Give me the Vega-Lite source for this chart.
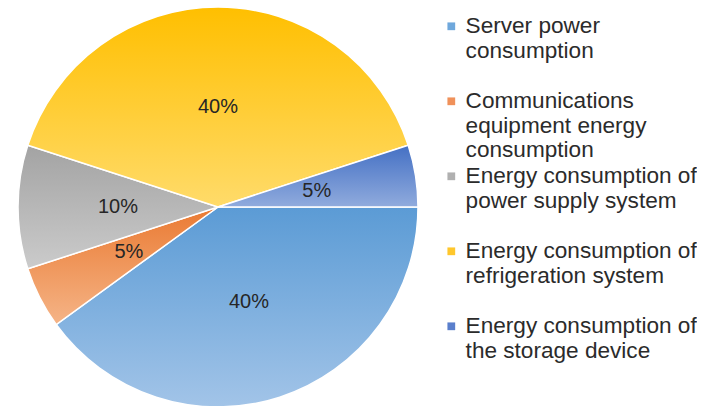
{
  "$schema": "https://vega.github.io/schema/vega-lite/v6.json",
  "width": 436,
  "height": 406,
  "padding": 0,
  "autosize": {"type": "pad"},
  "background": "white",
  "config": {"view": {"stroke": null}},
  "data": {
    "values": [
      {"cat": "Server power|consumption", "pct": 40, "lbl": "40%", "order": 1},
      {"cat": "Communications|equipment energy|consumption", "pct": 5, "lbl": "5%", "order": 2},
      {"cat": "Energy consumption of|power supply system", "pct": 10, "lbl": "10%", "order": 3},
      {"cat": "Energy consumption of|refrigeration system", "pct": 40, "lbl": "40%", "order": 4},
      {"cat": "Energy consumption of|the storage device", "pct": 5, "lbl": "5%", "order": 5}
    ]
  },
  "transform": [
    {"stack": "pct", "groupby": [], "sort": [{"field": "order", "order": "ascending"}], "as": ["start", "end"]}
  ],
  "layer": [
    {
      "mark": {"type": "arc", "outerRadius": 200, "yOffset": 4, "stroke": "#ffffff", "strokeWidth": 1.5},
      "encoding": {
        "theta": {"field": "start", "type": "quantitative", "scale": {"domain": [0, 100], "range": [1.5707963, 7.8539816]}},
        "theta2": {"field": "end"},
        "color": {
          "field": "cat", "type": "nominal",
          "scale": {
            "domain": ["Server power|consumption", "Communications|equipment energy|consumption", "Energy consumption of|power supply system", "Energy consumption of|refrigeration system", "Energy consumption of|the storage device"],
            "range": ["#6fa8dc", "#f0915a", "#b0b0b0", "#ffc72c", "#5a7fcc"]
          },
          "legend": {
            "orient": "none", "legendX": 440, "legendY": 15, "title": null,
            "symbolType": "square", "symbolSize": 60, "symbolStrokeWidth": 0,
            "labelExpr": "split(datum.label, '|')",
            "labelFontSize": 22.6, "labelFont": "Liberation Sans", "labelColor": "#2b2b2b",
            "labelLimit": 0, "labelOffset": 3, "rowPadding": 2, "gridAlign": "all"
          }
        }
      }
    },
    {
      "transform": [{"filter": "datum.order == 1"}],
      "mark": {"type": "arc", "outerRadius": 200, "yOffset": 4, "stroke": "#ffffff", "strokeWidth": 1.5,
        "fill": {"gradient": "linear", "x1": 0, "y1": 0, "x2": 0, "y2": 1, "stops": [{"offset": 0, "color": "#5b9bd5"}, {"offset": 1, "color": "#a2c4e8"}]}},
      "encoding": {
        "theta": {"field": "start", "type": "quantitative", "scale": {"domain": [0, 100], "range": [1.5707963, 7.8539816]}},
        "theta2": {"field": "end"}
      }
    },
    {
      "transform": [{"filter": "datum.order == 2"}],
      "mark": {"type": "arc", "outerRadius": 200, "yOffset": 4, "stroke": "#ffffff", "strokeWidth": 1.5,
        "fill": {"gradient": "linear", "x1": 0, "y1": 0, "x2": 0, "y2": 1, "stops": [{"offset": 0, "color": "#ea7a32"}, {"offset": 1, "color": "#f5b487"}]}},
      "encoding": {
        "theta": {"field": "start", "type": "quantitative", "scale": {"domain": [0, 100], "range": [1.5707963, 7.8539816]}},
        "theta2": {"field": "end"}
      }
    },
    {
      "transform": [{"filter": "datum.order == 3"}],
      "mark": {"type": "arc", "outerRadius": 200, "yOffset": 4, "stroke": "#ffffff", "strokeWidth": 1.5,
        "fill": {"gradient": "linear", "x1": 0, "y1": 0, "x2": 0, "y2": 1, "stops": [{"offset": 0, "color": "#a3a3a3"}, {"offset": 1, "color": "#cbcbcb"}]}},
      "encoding": {
        "theta": {"field": "start", "type": "quantitative", "scale": {"domain": [0, 100], "range": [1.5707963, 7.8539816]}},
        "theta2": {"field": "end"}
      }
    },
    {
      "transform": [{"filter": "datum.order == 4"}],
      "mark": {"type": "arc", "outerRadius": 200, "yOffset": 4, "stroke": "#ffffff", "strokeWidth": 1.5,
        "fill": {"gradient": "linear", "x1": 0, "y1": 0, "x2": 0, "y2": 1, "stops": [{"offset": 0, "color": "#ffbf00"}, {"offset": 1, "color": "#ffdb6a"}]}},
      "encoding": {
        "theta": {"field": "start", "type": "quantitative", "scale": {"domain": [0, 100], "range": [1.5707963, 7.8539816]}},
        "theta2": {"field": "end"}
      }
    },
    {
      "transform": [{"filter": "datum.order == 5"}],
      "mark": {"type": "arc", "outerRadius": 200, "yOffset": 4, "stroke": "#ffffff", "strokeWidth": 1.5,
        "fill": {"gradient": "linear", "x1": 0, "y1": 0, "x2": 0, "y2": 1, "stops": [{"offset": 0, "color": "#4470c4"}, {"offset": 1, "color": "#90abdd"}]}},
      "encoding": {
        "theta": {"field": "start", "type": "quantitative", "scale": {"domain": [0, 100], "range": [1.5707963, 7.8539816]}},
        "theta2": {"field": "end"}
      }
    },
    {
      "mark": {"type": "text", "radius": 100, "yOffset": 4, "font": "Liberation Sans", "fontSize": 20, "color": "#262626"},
      "encoding": {
        "theta": {"field": "pct", "type": "quantitative", "stack": true, "scale": {"domain": [0, 100], "range": [1.5707963, 7.8539816]}},
        "order": {"field": "order", "type": "quantitative"},
        "text": {"field": "lbl", "type": "nominal"}
      }
    }
  ]
}
